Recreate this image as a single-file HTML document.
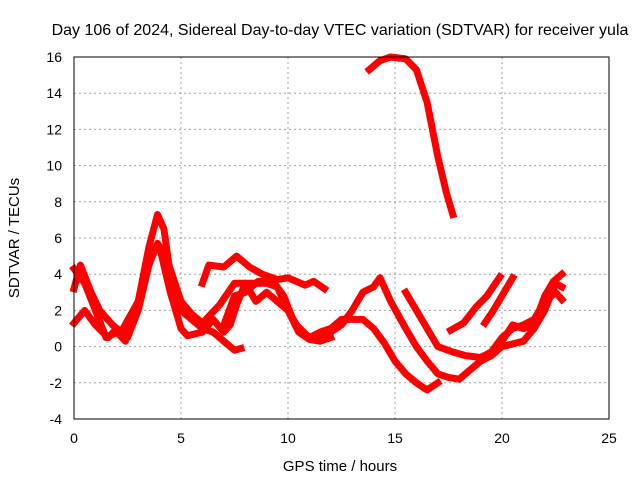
<!DOCTYPE html>
<html><head><meta charset="utf-8"><style>
body{margin:0;background:#fff;}
svg{display:block;font-family:"Liberation Sans",sans-serif;font-size:14px;}
</style></head><body>
<svg id="chart" width="640" height="480">
<text x="340" y="35" text-anchor="middle" style="font-size:16px">Day 106 of 2024, Sidereal Day-to-day VTEC variation (SDTVAR) for receiver yula</text>
<text x="340" y="471" text-anchor="middle" style="font-size:15px">GPS time / hours</text>
<text transform="translate(19,238) rotate(-90)" text-anchor="middle" style="font-size:15px">SDTVAR / TECUs</text>
<g id="grid"></g><g id="series"></g>
<rect x="74" y="57" width="535" height="362" fill="none" stroke="#000" stroke-width="1"/>
</svg>
<script>
const xTicks=[0,5,10,15,20,25];
const yTicks=[-4,-2,0,2,4,6,8,10,12,14,16];
const t1=[[0,4.3],[0.5,3.5],[1,2],[1.5,0.5],[2,0.8],[2.4,0.3],[3,2.5],[3.5,5.5],[3.9,7.3],[4.2,6.5],[4.5,4],[5,2],[5.5,1.5],[6,1],[6.5,0.8],[7,0.3],[7.5,-0.2],[7.8,-0.1]];
const t2=[[0,1.3],[0.5,2],[1,1.2],[1.6,0.5],[2,1],[2.5,0.5],[3,2],[3.5,4.5],[3.9,5.7],[4.3,5],[5,2.5],[5.5,1.8],[6,1.3],[6.8,2.3],[7.5,3.5],[8.2,3.5],[9,3.5],[9.5,3.3],[10,2],[10.5,0.8],[11,0.4],[11.5,0.3],[12,0.5]];
const t3=[[6,3.5],[6.3,4.5],[7,4.4],[7.6,5],[8.2,4.4],[8.8,4],[9.5,3.7],[10,3.8],[10.8,3.4],[11.2,3.6],[11.7,3.2]];
const t4=[[0,3.2],[0.3,4.5],[0.8,3],[1.2,2],[1.8,1.2],[2.2,0.8],[3,2.5],[3.6,5.2],[4,5.5],[4.5,3],[5,1],[5.3,0.6],[6,0.8],[6.5,1.5],[7,0.8],[7.3,1.2],[7.6,2.3],[8,3.5],[8.5,2.5],[9,3],[9.5,2.5],[10,2],[10.5,1],[11,0.5],[11.5,0.8],[12,1],[12.5,1.5],[13,1.5],[13.5,1.5],[14,1],[14.5,0.2],[15,-0.8],[15.5,-1.5],[16,-2],[16.5,-2.4],[17,-2]];
const t5=[[7,1.2],[7.5,2.8],[8,3],[8.6,3.6],[9.3,3.6],[9.8,2.8],[10.3,1.3],[11,0.5],[11.5,0.5],[12,0.8],[12.5,1.2],[13,2],[13.5,3],[14,3.3],[14.3,3.8],[14.8,2.5],[15.5,1],[16,0],[16.5,-0.8],[17,-1.5],[17.5,-1.7],[18,-1.8],[18.5,-1.3],[19,-0.8],[19.5,-0.5],[20,0],[21,0.3],[21.5,1],[22,2],[22.5,3.5],[22.8,3.3]];
const t6=[[15.5,3],[16,2],[16.5,1],[17,0],[17.7,-0.3],[18.3,-0.5],[19,-0.6],[19.5,-0.3],[20,0.5],[20.5,1],[21,1.2],[21.5,1.5],[22,2.5],[22.5,3],[22.8,2.6]];
const t7=[[17.6,0.9],[18.2,1.3],[18.8,2.2],[19.3,2.8],[19.9,3.85]];
const t8=[[19.2,1.3],[19.6,2],[20.1,3],[20.5,3.8]];
const t9=[[20,0.3],[20.5,1.2],[21,1],[21.5,1.2],[22,2.8],[22.4,3.6],[22.8,4]];
const t10=[[13.8,15.3],[14.3,15.8],[14.8,16],[15.5,15.9],[16,15.3],[16.5,13.5],[17,10.5],[17.4,8.5],[17.7,7.3]];
const seriesList=[t1,t2,t3,t4,t5,t6,t7,t8,t9,t10];
const NS="http://www.w3.org/2000/svg";
const X0=74,X1=609,Y0=419,Y1=57;
function sx(h){return X0+(h-0)/(25-0)*(X1-X0);}
function sy(v){return Y0-(v-(-4))/(16-(-4))*(Y0-Y1);}
const grid=document.getElementById('grid');
xTicks.forEach(t=>{
 const l=document.createElementNS(NS,'line');
 l.setAttribute('x1',sx(t));l.setAttribute('x2',sx(t));l.setAttribute('y1',Y1);l.setAttribute('y2',Y0);
 l.setAttribute('stroke','#a0a0a0');l.setAttribute('stroke-dasharray','2,3');
 
 
 grid.appendChild(l);
 const tx=document.createElementNS(NS,'text');
 tx.setAttribute('x',sx(t));tx.setAttribute('y',443);tx.setAttribute('text-anchor','middle');tx.textContent=t;
 
 
 grid.appendChild(tx);
});
yTicks.forEach(t=>{
 const l=document.createElementNS(NS,'line');
 l.setAttribute('x1',X0);l.setAttribute('x2',X1);l.setAttribute('y1',sy(t));l.setAttribute('y2',sy(t));
 l.setAttribute('stroke','#a0a0a0');l.setAttribute('stroke-dasharray','2,3');
 
 
 grid.appendChild(l);
 const tx=document.createElementNS(NS,'text');
 tx.setAttribute('x',62);tx.setAttribute('y',sy(t)+5);tx.setAttribute('text-anchor','end');tx.textContent=t;
 
 
 grid.appendChild(tx);
});
const sg=document.getElementById('series');
seriesList.forEach((s,i)=>{
 const p=document.createElementNS(NS,'polyline');
 p.setAttribute('points',s.map(d=>sx(d[0]).toFixed(1)+','+sy(d[1]).toFixed(1)).join(' '));
 p.setAttribute('fill','none');p.setAttribute('stroke','#ff0000');p.setAttribute('stroke-width','7');
 p.setAttribute('stroke-linejoin','round');p.setAttribute('stroke-linecap','square');
 
 
 sg.appendChild(p);
});
</script>
</body></html>
